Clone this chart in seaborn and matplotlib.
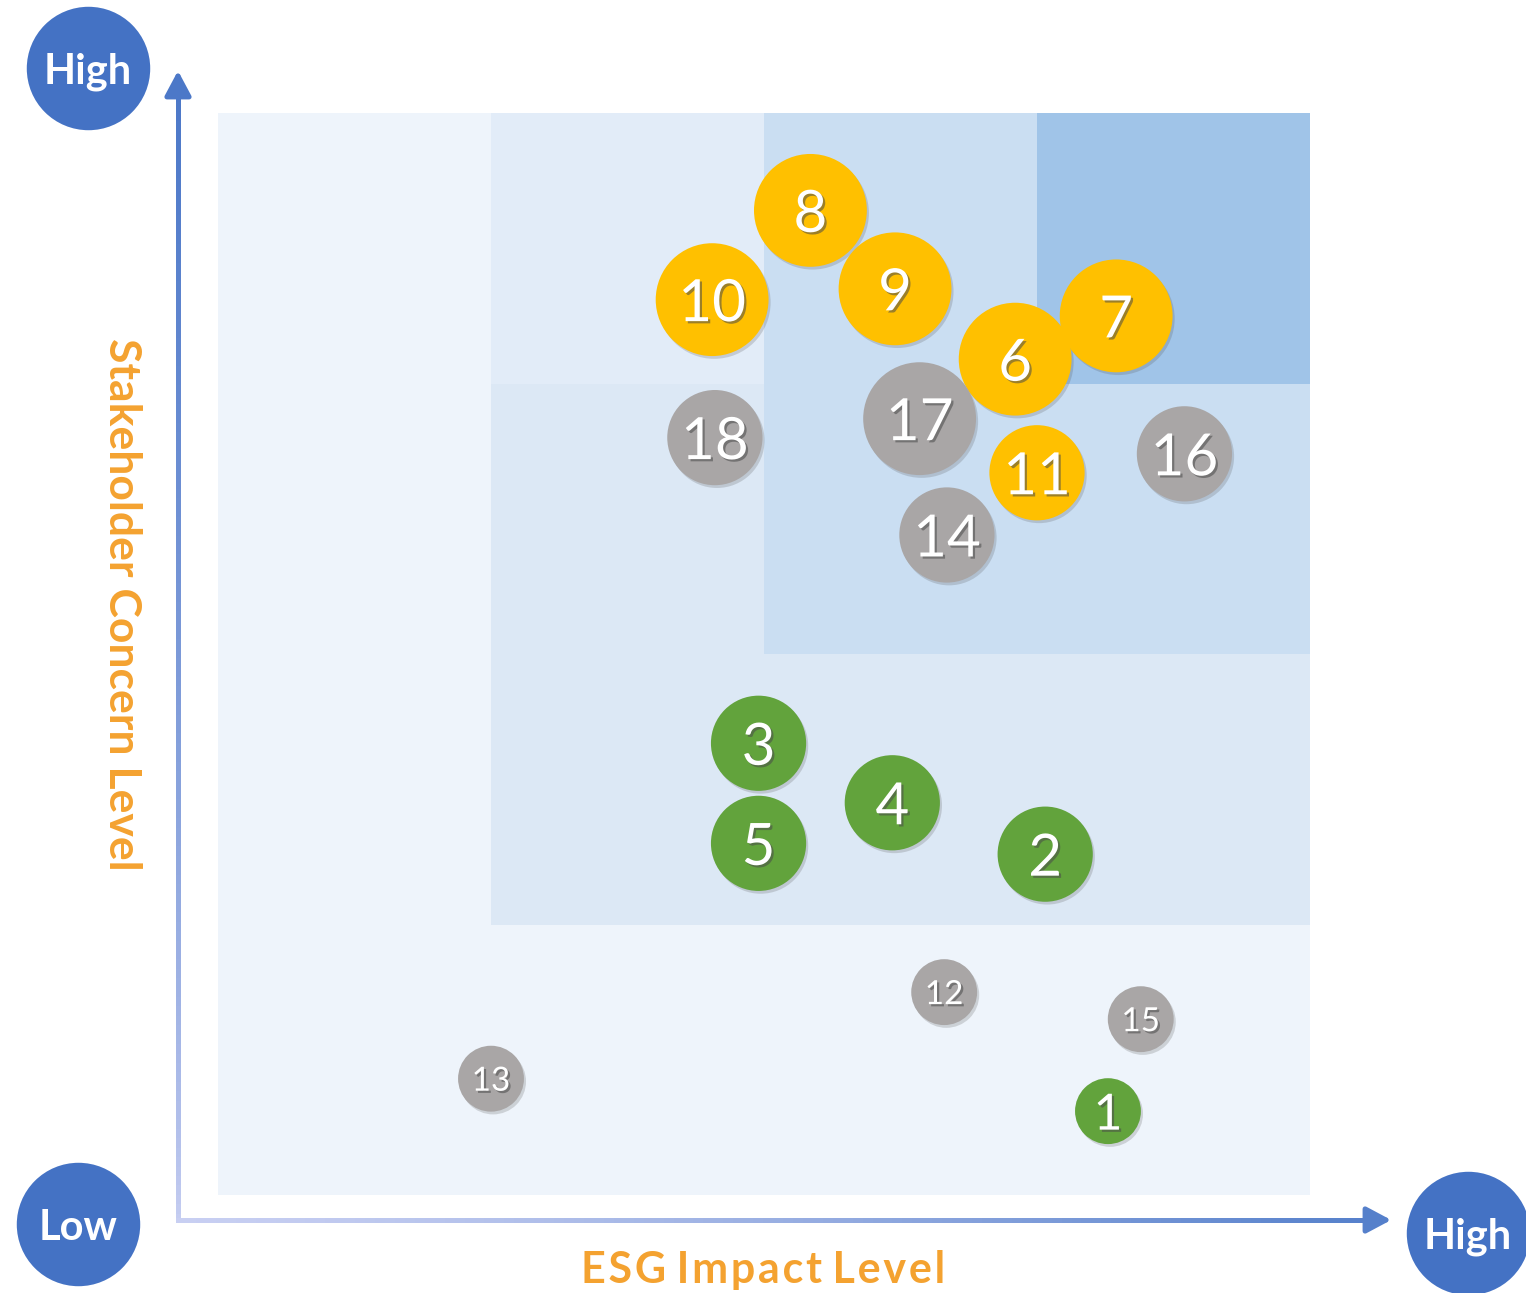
import numpy as np
import pandas as pd
import matplotlib
matplotlib.use("Agg")
import matplotlib.pyplot as plt
import seaborn as sns
from matplotlib.patches import Rectangle, FancyArrowPatch
from matplotlib.collections import LineCollection
import matplotlib.patheffects as pe
from matplotlib.colors import to_rgba

# ---------------- data ----------------
labels = ["1", "2", "3", "4", "5", "6", "7", "8", "9", "10",
          "11", "12", "13", "14", "15", "16", "17", "18"]
esg_impact = [3.26, 3.03, 1.98, 2.47, 1.98, 2.92, 3.29, 2.17, 2.48, 1.81,
              3.00, 2.66, 1.00, 2.67, 3.38, 3.54, 2.57, 1.82]
stakeholder_concern = [0.31, 1.26, 1.67, 1.45, 1.30, 3.09, 3.25, 3.64, 3.35, 3.31,
                       2.67, 0.75, 0.43, 2.44, 0.65, 2.74, 2.87, 2.80]
groups = ["green", "green", "green", "green", "green",
          "yellow", "yellow", "yellow", "yellow", "yellow", "yellow",
          "gray", "gray", "gray", "gray", "gray", "gray", "gray"]
size_class = ["S", "M", "M", "M", "M", "L", "L", "L", "L", "L",
              "M", "S", "S", "M", "S", "M", "L", "M"]

df = pd.DataFrame({"impact": esg_impact, "concern": stakeholder_concern,
                   "label": labels, "group": groups, "size": size_class})

palette = {"yellow": "#FFC000", "green": "#62A33C", "gray": "#A9A6A6"}
sizes = {"L": 6600, "M": 4700, "S": 2250}

# ---------------- figure ----------------
W, H = 1526, 1293
sns.set_theme(style="white")
plt.rcParams["font.family"] = ["Lato", "DejaVu Sans"]

fig = plt.figure(figsize=(W / 100, H / 100), dpi=100)
ax = fig.add_axes([0, 0, 1, 1])
X0, XU = 218, 273.0      # pixel of x=0, pixels per unit
Y0, YU = 1195, 270.5     # pixel of y=0, pixels per unit
px = lambda p: (p - X0) / XU
py = lambda p: (Y0 - p) / YU
ax.set_xlim(px(0), px(W))
ax.set_ylim(py(H), py(0))
ax.axis("off")

# background materiality zones
zones = [((0, 0), 4, 4, "#EEF4FB"),
         ((1, 1), 3, 3, "#DCE8F5"),
         ((1, 3), 1, 1, "#E2ECF8"),
         ((2, 2), 2, 2, "#CADEF2"),
         ((3, 3), 1, 1, "#A0C4E8")]
for xy, w, h, c in zones:
    ax.add_patch(Rectangle(xy, w, h, facecolor=c, edgecolor="none", zorder=0))

# gradient axis arrows
def grad_line(x0, y0, x1, y1, c0, c1, n=120, gamma=0.8):
    t = np.linspace(0, 1, n + 1)
    xs = x0 + (x1 - x0) * t
    ys = y0 + (y1 - y0) * t
    segs = np.stack([np.column_stack([xs[:-1], ys[:-1]]),
                     np.column_stack([xs[1:], ys[1:]])], axis=1)
    a, b = np.array(to_rgba(c0)), np.array(to_rgba(c1))
    tm = ((t[:-1] + t[1:]) / 2) ** gamma
    cols = a[None, :] * (1 - tm[:, None]) + b[None, :] * tm[:, None]
    lc = LineCollection(segs, colors=cols, linewidths=3.6, zorder=1,
                        capstyle="projecting", antialiased=False)
    ax.add_collection(lc)

cx, cy = px(178), py(1220)
top_y, right_x = py(68), px(1394)
grad_line(cx, cy, cx, py(90), "#C8CFF2", "#4C78C8", gamma=0.7)
grad_line(cx, cy, px(1372), cy, "#C8CFF2", "#5580CB", gamma=1.3)
for start, end, col in [((cx, py(95)), (cx, top_y), "#4C78C8"),
                        ((px(1368), cy), (right_x, cy), "#5580CB")]:
    ax.add_patch(FancyArrowPatch(start, end, arrowstyle="-|>,head_length=0.75,head_width=0.4",
                                 mutation_scale=20, color=col, lw=3.6, zorder=1))

# bubbles
sns.scatterplot(data=df, x="impact", y="concern", hue="group", palette=palette,
                size="size", sizes=sizes, legend=False, linewidth=0, alpha=1,
                ax=ax, zorder=3)
ax.collections[-1].set_path_effects([
    pe.SimplePatchShadow(offset=(1.5, -2), shadow_rgbFace="#555555", alpha=0.22),
    pe.Normal()])

txt_fx = [pe.SimplePatchShadow(offset=(1.6, -1.6), shadow_rgbFace="#4a4a4a", alpha=0.55),
          pe.Normal()]
for _, r in df.iterrows():
    if r["size"] == "S":
        fs = 36 if len(r["label"]) == 1 else 24
    else:
        fs = 42
    ax.text(r["impact"], r["concern"], r["label"], ha="center", va="center_baseline",
            fontsize=fs, color="white", zorder=4, path_effects=txt_fx)

# High / Low badges
badge_col = "#4472C4"
badges = [(88, 68, "High"), (78, 1224, "Low"), (1468, 1233, "High")]
for bx, by, t in badges:
    ax.scatter([px(bx)], [py(by)], s=7900, color=badge_col, linewidth=0, zorder=5, clip_on=False)
    ax.text(px(bx), py(by), t, ha="center", va="center_baseline", fontsize=30,
            fontweight="bold", color="white", zorder=6)

# axis titles
orange = "#F4A230"
ax.text(px(763), py(1270), "E S G  I m p a c t  L e v e l".replace("  ", "\u2003").replace(" ", "\u200a").replace("\u2003", " "),
        ha="center", va="center", fontsize=31, fontweight="bold", color=orange, zorder=6)
ax.text(px(122), py(604), "Stakeholder Concern Level", ha="center", va="center",
        rotation=270, fontsize=32, fontweight="bold", color=orange, zorder=6)

fig.savefig("out.png", dpi=100, facecolor="white")
